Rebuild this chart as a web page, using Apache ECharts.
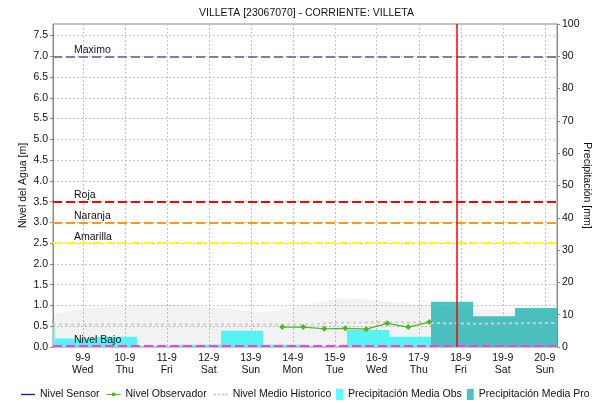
<!DOCTYPE html>
<html>
<head>
<meta charset="utf-8">
<script src="https://cdn.jsdelivr.net/npm/echarts@6/dist/echarts.min.js"></script>
<style>
  html, body { margin: 0; padding: 0; background: #ffffff; }
  #chart { width: 592px; height: 403px; }
</style>
</head>
<body>
<div id="chart"></div>
<script>
// x is measured in days from 9-9 00:00; hydrological days run 07:00 to 07:00
const dayLabels = ['9-9', '10-9', '11-9', '12-9', '13-9', '14-9', '15-9', '16-9', '17-9', '18-9', '19-9', '20-9'];
const dayNames = ['Wed', 'Thu', 'Fri', 'Sat', 'Sun', 'Mon', 'Tue', 'Wed', 'Thu', 'Fri', 'Sat', 'Sun'];
const xStart = -17 / 24;      // 8-9 07:00
const xEnd = 11 + 7 / 24;     // 20-9 07:00
const nowMark = 8.9;          // current time marker

// water level thresholds [m]
const thresholds = [
  { name: 'Maximo', value: 7.0, color: '#7682a8' },
  { name: 'Roja', value: 3.5, color: '#ff0000' },
  { name: 'Naranja', value: 3.0, color: '#ff9a10' },
  { name: 'Amarilla', value: 2.5, color: '#ffff00' },
  { name: 'Nivel Bajo', value: 0.02, color: '#f040f0' }
];

// observed precipitation [start day, end day, mm]
const precipObs = [
  [-0.708, -0.667, 6.1],
  [-0.667, 0.292, 2.6],
  [0.292, 1.292, 3.2],
  [1.292, 2.292, 0.3],
  [2.292, 3.292, 0.7],
  [3.292, 4.292, 5.0],
  [4.292, 5.292, 0.7],
  [5.292, 6.292, 0.0],
  [6.292, 7.292, 5.3],
  [7.292, 8.292, 3.2]
];
// forecast precipitation [start day, end day, mm]
const precipPro = [
  [8.292, 9.292, 14.0],
  [9.292, 10.292, 9.5],
  [10.292, 11.292, 12.1]
];

// sensor level [m] (no readings in this period)
const sensorLevel = [];
// observer readings [day, m]
const observerLevel = [
  [4.75, 0.48], [5.25, 0.48], [5.75, 0.44], [6.25, 0.45],
  [6.75, 0.43], [7.25, 0.57], [7.75, 0.48], [8.25, 0.60]
];
// historic mean level [day, m]
const histMean = [
  [-0.708, 0.54], [5.5, 0.58], [5.85, 0.60], [7.3, 0.56], [9.3, 0.58], [11.292, 0.58]
];
// historic envelope [day, m]
const histBand = [
  [-0.708, 0.78], [-0.5, 0.83], [-0.25, 0.88], [0, 0.92], [0.25, 0.95], [0.5, 0.96],
  [1, 0.99], [1.5, 1.02], [2, 1.03], [2.5, 1.02], [3, 0.96], [3.5, 0.92],
  [4, 0.86], [4.3, 0.84], [4.6, 0.88], [5, 0.96], [5.5, 1.05], [6, 1.16],
  [6.5, 1.18], [7, 1.12], [7.5, 1.06], [8, 1.02], [8.5, 0.97], [9, 0.94],
  [9.292, 0.93], [9.3, 0.90], [9.9, 0.90], [9.95, 0.85], [10.29, 0.85], [10.3, 0.93], [11.292, 0.93]
];

const font = 'Liberation Sans';
const fs = 10.5;
const textColor = '#111';
const gridColor = '#c4c4c4';
const axisColor = '#8a8a8a';

// legend glyphs
const iconLine = 'path://M0,3.3h14v1.4h-14z';
const iconLineMarker = 'path://M0,3.4h14v1.2h-14zM5.5,2.3h3v3.4h-3z';
const iconDots = 'path://M0,3h2.5v2h-2.5zM4,3h2.5v2h-2.5zM8,3h2.5v2h-2.5zM11.5,3h2.5v2h-2.5z';

function barRenderer(color) {
  return function (params, api) {
    const p0 = api.coord([api.value(0), api.value(2)]);
    const p1 = api.coord([api.value(1), 0]);
    const rect = echarts.graphic.clipRectByRect(
      { x: p0[0], y: p0[1], width: p1[0] - p0[0], height: p1[1] - p0[1] },
      { x: params.coordSys.x, y: params.coordSys.y, width: params.coordSys.width, height: params.coordSys.height }
    );
    return rect && { type: 'rect', shape: rect, style: { fill: color } };
  };
}

const thresholdLines = thresholds.map(t => ({
  yAxis: t.value,
  name: t.name,
  lineStyle: { color: t.color, type: [9, 4], width: 2 },
  label: {
    show: true, formatter: t.name, position: 'insideStartTop',
    distance: [21, 1], color: textColor, fontSize: fs, fontFamily: font
  }
}));

const legendText = { fontSize: fs, color: textColor, fontFamily: font };

const chart = echarts.init(document.getElementById('chart'), null, { renderer: 'canvas' });
chart.setOption({
  animation: false,
  textStyle: { fontFamily: font },
  title: {
    text: 'VILLETA [23067070] - CORRIENTE: VILLETA',
    left: 199, top: 8, padding: 0,
    textStyle: { fontSize: fs, fontWeight: 'normal', color: textColor, fontFamily: font }
  },
  legend: [
    {
      data: [
        { name: 'Nivel Sensor', icon: iconLine },
        { name: 'Nivel Observador', icon: iconLineMarker },
        { name: 'Nivel Medio Historico', icon: iconDots }
      ],
      left: 21, top: 389, padding: 0, itemWidth: 14, itemHeight: 8, itemGap: 7,
      textStyle: legendText
    },
    {
      data: ['Precipitación Media Obs', 'Precipitación Media Pro'],
      left: 336, top: 389, padding: 0, width: 256, itemWidth: 7, itemHeight: 11, itemGap: 5, icon: 'rect',
      textStyle: legendText
    }
  ],
  grid: {
    left: 53, right: 35, top: 24, bottom: 56,
    outerBoundsMode: 'none', containLabel: false,
    show: true, borderColor: axisColor, borderWidth: 1, backgroundColor: 'transparent'
  },
  xAxis: {
    type: 'value', min: xStart, max: xEnd, minInterval: 1, maxInterval: 1,
    axisLine: { show: false },
    axisTick: { show: false },
    splitLine: { show: true, showMinLine: false, showMaxLine: false, lineStyle: { color: gridColor, type: [2, 2] } },
    axisLabel: {
      showMinLabel: false, showMaxLabel: false, margin: 5, lineHeight: 12,
      color: textColor, fontSize: fs, fontFamily: font,
      formatter: v => {
        const i = Math.round(v);
        if (Math.abs(v - i) > 1e-6 || i < 0 || i >= dayLabels.length) return '';
        return dayLabels[i] + '\n' + dayNames[i];
      }
    }
  },
  yAxis: [
    {
      type: 'value', min: 0, max: 7 / 0.9, interval: 0.5,
      name: 'Nivel del Agua [m]', nameLocation: 'middle', nameGap: 24, nameMoveOverlap: false,
      nameTextStyle: { fontSize: fs, color: textColor, fontFamily: font },
      axisLine: { show: true, onZero: false, lineStyle: { color: axisColor } },
      axisTick: { show: true, length: 3, lineStyle: { color: axisColor } },
      splitLine: { show: true, showMaxLine: false, lineStyle: { color: gridColor, type: [2, 2] } },
      axisLabel: {
        showMaxLabel: false, margin: 5, color: textColor, fontSize: fs, fontFamily: font,
        formatter: v => v.toFixed(1)
      }
    },
    {
      type: 'value', min: 0, max: 100, interval: 10, position: 'right',
      name: 'Precipitación [mm]', nameLocation: 'middle', nameGap: 24, nameRotate: -90, nameMoveOverlap: false,
      nameTextStyle: { fontSize: fs, color: textColor, fontFamily: font },
      axisLine: { show: true, onZero: false, lineStyle: { color: axisColor } },
      axisTick: { show: true, length: 3, lineStyle: { color: axisColor } },
      splitLine: { show: false },
      axisLabel: { margin: 5, color: textColor, fontSize: fs, fontFamily: font }
    }
  ],
  series: [
    {
      name: 'Precipitación Media Obs', type: 'custom', yAxisIndex: 1,
      renderItem: barRenderer('#55ffff'),
      itemStyle: { color: '#55ffff' },
      encode: { x: [0, 1], y: 2 },
      data: precipObs, z: 2
    },
    {
      name: 'Precipitación Media Pro', type: 'custom', yAxisIndex: 1,
      renderItem: barRenderer('#48c6c6'),
      itemStyle: { color: '#48c6c6' },
      encode: { x: [0, 1], y: 2 },
      data: precipPro, z: 2
    },
    {
      name: 'Envolvente Historica', type: 'line', yAxisIndex: 0,
      data: histBand, symbol: 'none', silent: true,
      lineStyle: { width: 0, opacity: 0 },
      areaStyle: { color: 'rgba(110,110,110,0.13)', origin: 'start' },
      z: 3
    },
    {
      name: 'Nivel Medio Historico', type: 'line', yAxisIndex: 0,
      data: histMean, step: 'end', symbol: 'none',
      lineStyle: { color: '#cfcfcf', width: 2, type: [3, 3] },
      itemStyle: { color: '#cfcfcf' },
      z: 4
    },
    {
      name: 'Nivel Sensor', type: 'line', yAxisIndex: 0,
      data: sensorLevel, symbol: 'none',
      lineStyle: { color: '#1020d0', width: 1.5 },
      itemStyle: { color: '#1020d0' },
      z: 5
    },
    {
      name: 'Nivel Observador', type: 'line', yAxisIndex: 0,
      data: observerLevel, symbol: 'diamond', symbolSize: 6,
      lineStyle: { color: '#4cb820', width: 1.2 },
      itemStyle: { color: '#4cb820' },
      z: 6
    },
    {
      name: 'Umbrales', type: 'line', yAxisIndex: 0, data: [], z: 7,
      markLine: {
        silent: true, symbol: 'none', animation: false,
        data: thresholdLines.concat([{
          xAxis: nowMark,
          lineStyle: { color: '#ff0000', type: 'solid', width: 1.5 },
          label: { show: false }
        }])
      }
    }
  ]
});
</script>
</body>
</html>
